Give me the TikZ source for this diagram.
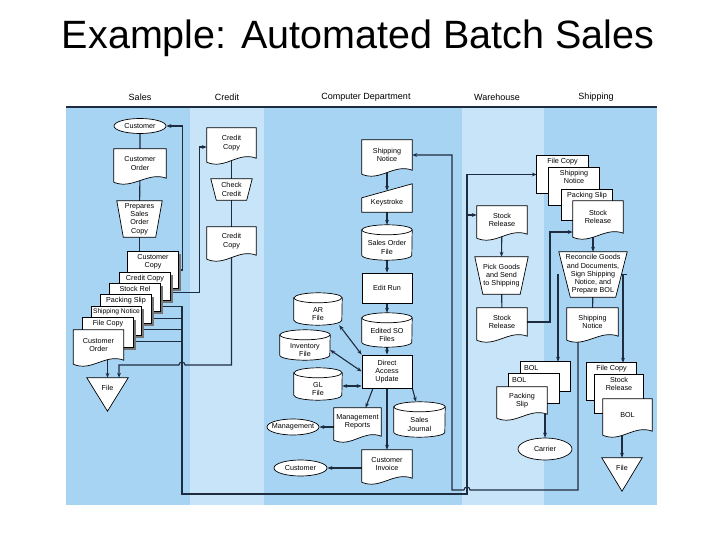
\documentclass[tikz,border=0pt]{standalone}
\usepackage{fontspec}
\setmainfont{Liberation Sans}
\usetikzlibrary{shapes.geometric, arrows.meta, positioning, calc}

\definecolor{lanemid}{RGB}{168,212,244}
\definecolor{lanelight}{RGB}{200,228,249}
\definecolor{ink}{RGB}{30,44,64}
\definecolor{cardshadow}{RGB}{118,118,118}

\pgfdeclarelayer{lanes}
\pgfdeclarelayer{lines}
\pgfdeclarelayer{shapes}
\pgfsetlayers{lanes,lines,shapes,main}

\tikzset{
  lbl/.style={font=\fontsize{7.2}{8.3}\selectfont, align=center, inner sep=0pt},
  slot/.style={lbl, rectangle, minimum width=50},
  term/.style={lbl, ellipse, draw, fill=white, line width=0.7pt, inner xsep=-4pt,
               minimum width=52, minimum height=15},
  proc/.style={lbl, rectangle, draw, fill=white, line width=0.7pt, minimum width=50},
  lanehead/.style={font=\fontsize{9}{11}\selectfont, inner sep=0pt},
  outline/.style={draw, fill=white, line width=0.7pt},
  line/.style={draw=ink, line width=1.1pt},
  flow/.style={line, -{Stealth[length=5pt, width=3.8pt]}},
  both/.style={line, {Stealth[length=5pt, width=3.8pt]}-{Stealth[length=5pt, width=3.8pt]}},
  top label/.style={label={[lbl, anchor=north, yshift=-2pt]north:#1}},
  bol label/.style={label={[lbl, anchor=north west, xshift=3pt, yshift=-3pt]north west:BOL}}
}

% outlines drawn round the named nodes
\newcommand{\docout}[1]{\draw[outline] (#1.south east) -- (#1.north east) -- (#1.north west)
  -- ([yshift=-4pt]#1.south west) .. controls +(18,8) and +(-18,-7) .. (#1.south east) -- cycle;}
\newcommand{\cardout}[1]{\draw[outline] (#1.north west) rectangle (#1.south east);}
\newcommand{\shadowcard}[1]{\fill[cardshadow] ([xshift=2.5pt,yshift=-2.5pt]#1.north west)
  rectangle ([xshift=2.5pt,yshift=-2.5pt]#1.south east); \cardout{#1}}
\newcommand{\diskout}[3]{\draw[outline] ([yshift=#3pt]#1.north west) -- ([yshift=#3pt]#1.south west)
  arc[start angle=180, end angle=0, x radius=#2, y radius=#3] -- ([yshift=#3pt]#1.north east)
  arc[start angle=0, end angle=-180, x radius=#2, y radius=#3] -- cycle;
  \draw[line width=0.7pt] ([yshift=#3pt]#1.north west) arc[start angle=180, end angle=0, x radius=#2, y radius=#3];}
\newcommand{\manout}[2]{\draw[outline] (#1.north west) -- (#1.north east)
  -- ([xshift=-#2pt]#1.south east) -- ([xshift=#2pt]#1.south west) -- cycle;}
\newcommand{\keyout}[1]{\draw[outline] ([yshift=-4pt]#1.north west) -- ([yshift=10pt]#1.north east)
  -- (#1.south east) -- (#1.south west) -- cycle;}
\newcommand{\fileout}[1]{\draw[outline] (#1.north west) -- (#1.north east) -- ([yshift=-13pt]#1.south) -- cycle;}

\begin{document}
\begin{tikzpicture}[x=1pt, y=-1pt]
\useasboundingbox (0,0) rectangle (720,540);

% lanes
\begin{pgfonlayer}{lanes}
\fill[white] (0,0) rectangle (720,540);
\fill[lanemid]   (66,107)  rectangle (190,505);
\fill[lanelight] (190,107) rectangle (264,505);
\fill[lanemid]   (264,107) rectangle (462,505);
\fill[lanelight] (462,107) rectangle (544,505);
\fill[lanemid]   (544,107) rectangle (657,505);
\end{pgfonlayer}

\node[font=\fontsize{39.5}{46}\selectfont, inner sep=0pt] (title) at (358,38) {Example: Automated Batch Sales};
\node[lanehead] (hsales) at (140,97) {Sales};
\node[lanehead] (hcredit) at (227,97) {Credit};
\node[lanehead] (hcomp) at (366,97) {Computer Department};
\node[lanehead] (hware) at (497,97) {Warehouse};
\node[lanehead] (hship) at (596,97) {Shipping};
\draw[ink, line width=1.2pt] (66,107) -- (657,107);

% Sales
\node[term] (cust1) at (140,126) {Customer};
\node[slot, minimum width=52, minimum height=29] (cord1) at (140,163.5) {Customer\\Order};
\node[slot, minimum width=45, minimum height=36] (prep) at (139.5,219) {Prepares\\Sales\\Order\\Copy};
\node[slot, minimum height=36, top label={Customer\\Copy}] (ccopy) at (153,270) {};
\node[slot, minimum height=27, top label={Credit Copy}] (crcopy) at (145,286.5) {};
\node[slot, minimum height=27, top label={Stock Rel}] (srel) at (135,297.5) {};
\node[slot, minimum height=28, top label={Packing Slip}] (pslip) at (126,309) {};
\node[slot, minimum height=28, top label={\fontsize{6.7}{8}\selectfont Shipping Notice}] (snot) at (116.5,321) {};
\node[slot, minimum height=29, top label={File Copy}] (fcopy) at (108,332.5) {};
\node[slot, minimum height=30] (cord2) at (98.5,345) {Customer\\Order};
\node[slot, minimum width=41, minimum height=20] (file1) at (107.5,388) {File};

% Credit
\node[slot, minimum width=49, minimum height=30] (crc1) at (231.5,143) {Credit\\Copy};
\node[slot, minimum width=41, minimum height=21] (chk) at (231.5,189.5) {Check\\Credit};
\node[slot, minimum width=49, minimum height=28] (crc2) at (231.5,241) {Credit\\Copy};

% Computer Department
\node[slot, minimum height=30] (snc) at (387,155) {Shipping\\Notice};
\node[slot, minimum height=18] (key) at (387,203) {Keystroke};
\node[slot, minimum height=25] (sof) at (387,247.5) {Sales Order\\File};
\node[proc, minimum height=30] (erun) at (387,288) {Edit Run};
\node[slot, minimum height=24] (esof) at (387,335) {Edited SO\\Files};
\node[proc, minimum height=33] (dau) at (387,371.5) {Direct\\Access\\Update};
\node[slot, minimum width=48, minimum height=22] (arf) at (318,314) {AR\\File};
\node[slot, minimum height=20] (inv) at (305,350) {Inventory\\File};
\node[slot, minimum width=48, minimum height=22] (gl) at (318,389) {GL\\File};
\node[slot, minimum width=47, minimum height=28] (mrep) at (357.5,422) {Management\\Reports};
\node[term, minimum width=52, minimum height=16] (mgmt) at (293,427) {Management};
\node[slot, minimum width=51, minimum height=25] (sjour) at (419.5,424.5) {Sales\\Journal};
\node[slot, minimum height=28] (cinv) at (387,464) {Customer\\Invoice};
\node[term, minimum width=53, minimum height=16] (cust2) at (300.5,468) {Customer};

% Warehouse
\node[slot, minimum height=28] (srw1) at (502,220) {Stock\\Release};
\node[slot, minimum width=53, minimum height=37] (pick) at (501.5,275.5) {Pick Goods\\and Send\\to Shipping};
\node[slot, minimum height=28] (srw2) at (502,322) {Stock\\Release};

% Shipping
\node[slot, minimum width=51, minimum height=37, top label={File Copy}] (sfc) at (562.5,174.5) {};
\node[slot, minimum height=37, top label={Shipping\\Notice}] (ssn) at (574,186.5) {};
\node[slot, minimum height=30, top label={Packing Slip}] (sps) at (587,205) {};
\node[slot, minimum height=32] (ssr) at (598,217) {Stock\\Release};
\node[slot, minimum width=68, minimum height=45] (rec) at (593,274.5)
  {Reconcile Goods\\and Documents,\\Sign Shipping\\Notice, and\\Prepare BOL};
\node[slot, minimum width=51, minimum height=28] (ssn2) at (592.5,322) {Shipping\\Notice};
\node[slot, minimum width=49, minimum height=29, bol label] (bol1) at (545.5,376.5) {};
\node[slot, minimum height=29, bol label] (bol2) at (534,388.5) {};
\node[slot, minimum height=27] (pks) at (522,400.5) {Packing\\Slip};
\node[term, minimum width=54, minimum height=22] (carrier) at (545,449) {Carrier};
\node[slot, minimum width=49, minimum height=37, top label={File Copy}] (fc2) at (611.5,381.5) {};
\node[slot, minimum width=48, minimum height=38, top label={Stock\\Release}] (sr3) at (619,394) {};
\node[slot, minimum width=49, minimum height=32] (bol3) at (627.5,415) {BOL};
\node[slot, minimum width=40, minimum height=20] (file2) at (622,468) {File};

% symbol outlines, back to front
\begin{pgfonlayer}{shapes}
\docout{cord1}
\manout{prep}{6.5}
\foreach \c in {ccopy,crcopy,srel,pslip,snot,fcopy} {\shadowcard{\c}}
\docout{cord2}
\fileout{file1}
\docout{crc1}
\manout{chk}{5.5}
\docout{crc2}
\docout{snc}
\keyout{key}
\diskout{sof}{25}{5}
\diskout{esof}{25}{5}
\diskout{arf}{24}{5}
\diskout{inv}{25}{5}
\diskout{gl}{24}{5}
\docout{mrep}
\diskout{sjour}{25.5}{5}
\docout{cinv}
\docout{srw1}
\manout{pick}{8}
\docout{srw2}
\foreach \c in {sfc,ssn,sps} {\cardout{\c}}
\docout{ssr}
\manout{rec}{11.5}
\docout{ssn2}
\cardout{bol1}
\cardout{bol2}
\docout{pks}
\cardout{fc2}
\cardout{sr3}
\docout{bol3}
\fileout{file2}
\end{pgfonlayer}

% bends and hops
\coordinate (trunkT) at (182,306);
\coordinate (trunkB) at (182,494);
\coordinate (wx) at (467,300);
\coordinate (xr) at (550,300);
\coordinate (snDrop) at (578,490);
\coordinate (snRise) at (452,300);
\coordinate (hopA) at (182,365);
\coordinate (hopB) at (467,490);
\coordinate (crOut) at ([yshift=-6pt]crcopy.east);
\coordinate (srIn) at ([yshift=5pt]srw1.west);
\coordinate (ssrIn) at ([yshift=-15pt]ssr.west);
\coordinate (glIn) at ([yshift=3pt]gl.east);

\begin{pgfonlayer}{lines}
% Sales
\draw[line] (cust1) -- (cord1) -- (prep);
\draw[line] (prep.south) -- (prep.south |- ccopy.north);
\draw[flow] (ccopy.east) -- ++(4,0) |- (cust1.east);
\draw[flow] (crOut) -- ++(29,0) |- ([yshift=-4pt]crc1.west);
\draw[line] ([yshift=5pt]srel.south east) -- ++(22,0);
\draw[line] ([yshift=5pt]pslip.south east) -- ++(31,0);
\draw[line] ([yshift=6pt]snot.south east) -- ++(40.5,0);
\draw[line] ([yshift=6pt]fcopy.south east) -- ++(49,0);
\draw[flow] (file1.north |- cord2.south) -- (file1.north);
% Credit
\draw[line] (crc1) -- (chk) -- (crc2);
\draw[flow] (crc2) |- ([xshift=3pt]hopA) arc[start angle=0, end angle=-180, radius=3]
  -| ([xshift=11.5pt]file1.north);
% Computer Department
\draw[flow] (snc) -- ([yshift=3pt]key.north);
\draw[flow] (key) -- ([yshift=10pt]sof.north);
\draw[flow] (sof) -- (erun.north);
\draw[flow] (erun) -- ([yshift=10pt]esof.north);
\draw[flow] (esof) -- (dau.north);
\draw[both] ([xshift=-3pt]arf.south east) -- (dau.north west);
\draw[both] (inv.east) -- (dau.west);
\draw[both] (glIn) -- (glIn -| dau.west);
\draw[flow] ([xshift=-14pt]dau.south) -- ([xshift=8pt]mrep.north);
\draw[flow] (dau.south east) -- ([xshift=-3.5pt, yshift=10pt]sjour.north);
\draw[flow] (dau) -- (cinv.north);
\draw[flow] (mrep.west |- mgmt) -- (mgmt.east);
\draw[flow] (cinv.west |- cust2) -- (cust2.east);
% Sales copies to Warehouse and Shipping
\draw[flow] (trunkT) -- (trunkB) -| (wx) |- (sfc.west);
\draw[flow] (srIn -| wx) -- (srIn);
% Warehouse
\draw[flow] (srw1) -- (pick.north);
\draw[line] (pick) -- (srw2);
\draw[flow] (srw2.east) -| (xr) |- (ssrIn);
% Shipping
\draw[flow] (rec.north |- ssr.south) -- (rec.north);
\draw[line] (rec) -- (ssn2);
\draw[flow] (rec.west) -| ([xshift=12.5pt]bol1.north);
\draw[flow] (rec.east) -| ([xshift=11.5pt]fc2.north);
\draw[flow] (carrier.north |- pks.south) -- (carrier.north);
\draw[flow] (file2.north |- bol3.south) -- (file2.north);
\draw[flow] (ssn2.south -| snDrop) -- (snDrop) -- ([xshift=3pt]hopB)
  arc[start angle=0, end angle=-180, radius=3] -- (hopB -| snRise) |- (snc.east);
\end{pgfonlayer}
\end{tikzpicture}
\end{document}
